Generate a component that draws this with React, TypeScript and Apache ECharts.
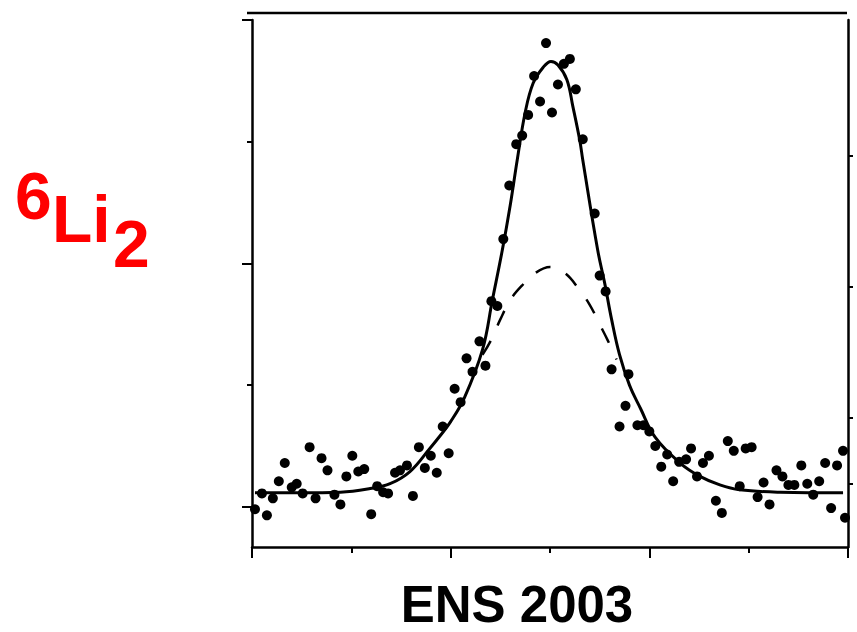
import React, { useEffect, useRef } from "react";
import * as echarts from "echarts";

// Measured points (x in axis units 0..6, y in axis units)
const pointsX = [
  0.03, 0.10, 0.15, 0.21, 0.27, 0.33, 0.40, 0.45, 0.51, 0.58, 0.64, 0.70, 0.76, 0.83, 0.89, 0.95,
  1.01, 1.07, 1.13, 1.20, 1.26, 1.32, 1.37, 1.44, 1.49, 1.56, 1.62, 1.68, 1.74, 1.80, 1.86, 1.92, 1.98,
  2.04, 2.10, 2.16, 2.22, 2.29, 2.35, 2.41, 2.47, 2.53, 2.59, 2.66, 2.72, 2.78, 2.84, 2.90, 2.96,
  3.02, 3.08, 3.14, 3.20, 3.26, 3.33, 3.45, 3.50, 3.56, 3.62, 3.70, 3.76, 3.79, 3.88, 3.94,
  4.00, 4.06, 4.12, 4.18, 4.24, 4.30, 4.37, 4.42, 4.48, 4.54, 4.60, 4.67, 4.73, 4.79, 4.85, 4.91, 4.97,
  5.03, 5.09, 5.15, 5.21, 5.28, 5.34, 5.40, 5.46, 5.53, 5.59, 5.65, 5.71, 5.77, 5.83, 5.89, 5.95, 5.97,
];
const pointsY = [
  -0.02, 0.11, -0.07, 0.07, 0.21, 0.36, 0.16, 0.19, 0.11, 0.49, 0.07, 0.40, 0.30, 0.10, 0.02, 0.25,
  0.42, 0.29, 0.31, -0.06, 0.17, 0.12, 0.11, 0.28, 0.30, 0.34, 0.09, 0.49, 0.32, 0.42, 0.28, 0.66, 0.44,
  0.97, 0.86, 1.22, 1.11, 1.36, 1.16, 1.69, 1.65, 2.20, 2.64, 2.98, 3.05, 3.22, 3.54, 3.33, 3.81,
  3.24, 3.47, 3.64, 3.68, 3.43, 3.02, 2.41, 1.90, 1.77, 1.13, 0.66, 0.83, 1.09, 0.67, 0.67,
  0.62, 0.50, 0.33, 0.43, 0.21, 0.37, 0.39, 0.48, 0.25, 0.36, 0.42, 0.05, -0.05, 0.54, 0.46, 0.17, 0.48,
  0.49, 0.08, 0.20, 0.02, 0.30, 0.25, 0.18, 0.18, 0.34, 0.19, 0.10, 0.21, 0.36, -0.01, 0.34, 0.46, -0.09,
];

// Solid fit curve
const fitX = [
  0.03, 0.48, 0.89, 1.19, 1.39, 1.59, 1.79, 1.89, 2.00, 2.14, 2.32, 2.42, 2.52, 2.60, 2.67, 2.75, 2.83,
  2.93, 3.01, 3.08, 3.17, 3.23, 3.30, 3.33, 3.48, 3.55, 3.62, 3.70, 3.80, 3.91, 4.06, 4.31, 4.51,
  4.71, 4.91, 5.32, 5.95,
];
const fitY = [
  0.115, 0.115, 0.12, 0.15, 0.19, 0.29, 0.48, 0.58, 0.70, 0.90, 1.29, 1.70, 2.11, 2.48, 2.85, 3.24, 3.48,
  3.61, 3.66, 3.63, 3.51, 3.29, 3.01, 2.85, 2.11, 1.84, 1.54, 1.25, 1.00, 0.81, 0.57, 0.36, 0.25,
  0.18, 0.14, 0.12, 0.115,
];

// Dashed curve
const dashX = [2.32, 2.40, 2.50, 2.60, 2.72, 2.85, 3.00, 3.15, 3.29, 3.40, 3.50, 3.58, 3.67];
const dashY = [1.25, 1.36, 1.54, 1.70, 1.82, 1.92, 1.97, 1.92, 1.79, 1.66, 1.50, 1.37, 1.21];

const leftMajorTicks = [0, 2, 4];
const leftMinorTicks = [1, 3];
const rightTicks = [0.5, 1, 2, 3];

const title = "ENS 2003";
const labelParts = ["6", "Li", "2"];

const FONT = "'Liberation Sans', Arial, Helvetica, sans-serif";

export default function App() {
  const ref = useRef<HTMLDivElement>(null);
  useEffect(() => {
    if (!ref.current) return;
    const chart = echarts.init(ref.current, undefined, { renderer: "svg" });
    const axisLineStyle = { color: "#000", width: 2.5 };
    const option: any = {
      animation: false,
      backgroundColor: "#fff",
      grid: { left: 252, right: 9, top: 20, bottom: 85 },
      xAxis: [
        {
          type: "value",
          min: 0,
          max: 6,
          interval: 2,
          position: "bottom",
          axisLine: { show: true, onZero: false, lineStyle: axisLineStyle },
          axisTick: { show: true, length: 11, lineStyle: { color: "#000", width: 2 } },
          minorTick: { show: true, splitNumber: 2, length: 6, lineStyle: { color: "#000", width: 2 } },
          axisLabel: { show: false },
          splitLine: { show: false },
          minorSplitLine: { show: false },
        },
      ],
      yAxis: [
        {
          type: "value",
          min: -0.33,
          max: 4,
          position: "left",
          axisLine: { show: true, onZero: false, lineStyle: axisLineStyle },
          axisTick: {
            show: true,
            length: 10,
            customValues: leftMajorTicks,
            lineStyle: { color: "#000", width: 2 },
          },
          axisLabel: { show: false },
          splitLine: { show: false },
        },
        {
          type: "value",
          min: -0.33,
          max: 4,
          position: "left",
          axisLine: { show: false },
          axisTick: {
            show: true,
            length: 5,
            customValues: leftMinorTicks,
            lineStyle: { color: "#000", width: 2 },
          },
          axisLabel: { show: false },
          splitLine: { show: false },
        },
        {
          type: "value",
          min: 0.015,
          max: 4.04,
          position: "right",
          axisLine: { show: true, onZero: false, lineStyle: axisLineStyle },
          axisTick: {
            show: true,
            length: 5,
            customValues: rightTicks,
            lineStyle: { color: "#000", width: 2 },
          },
          axisLabel: { show: false },
          splitLine: { show: false },
        },
      ],
      series: [
        {
          type: "line",
          xAxisIndex: 0,
          yAxisIndex: 0,
          data: dashX.map((x, i) => [x, dashY[i]]),
          smooth: 0.4,
          showSymbol: false,
          lineStyle: { color: "#000", width: 2.5, type: [16, 17] },
          z: 2,
        },
        {
          type: "line",
          xAxisIndex: 0,
          yAxisIndex: 0,
          data: fitX.map((x, i) => [x, fitY[i]]),
          smooth: 0.4,
          showSymbol: false,
          lineStyle: { color: "#000", width: 3 },
          z: 3,
        },
        {
          type: "scatter",
          xAxisIndex: 0,
          yAxisIndex: 0,
          data: pointsX.map((x, i) => [x, pointsY[i]]),
          symbol: "circle",
          symbolSize: 10,
          itemStyle: { color: "#000", opacity: 1 },
          clip: false,
          z: 4,
        },
      ],
      graphic: [
        {
          type: "line",
          shape: { x1: 247, y1: 13, x2: 847, y2: 13 },
          style: { stroke: "#000", lineWidth: 2.5 },
        },
        {
          type: "text",
          x: 517,
          y: 604,
          style: {
            text: title,
            fill: "#000",
            font: `bold 51px ${FONT}`,
            lineHeight: 44,
            align: "center",
            verticalAlign: "middle",
          },
        },
        {
          type: "text",
          x: 15,
          y: 196,
          style: {
            text: labelParts[0],
            fill: "#ff0000",
            font: `bold 66px ${FONT}`,
            align: "left",
            verticalAlign: "middle",
          },
        },
        {
          type: "text",
          x: 52,
          y: 219,
          style: {
            text: labelParts[1],
            fill: "#ff0000",
            font: `bold 66px ${FONT}`,
            align: "left",
            verticalAlign: "middle",
          },
        },
        {
          type: "text",
          x: 113,
          y: 244,
          style: {
            text: labelParts[2],
            fill: "#ff0000",
            font: `bold 66px ${FONT}`,
            align: "left",
            verticalAlign: "middle",
          },
        },
      ],
    };
    chart.setOption(option);
    return () => chart.dispose();
  }, []);
  return (
    <div
      ref={ref}
      style={{ position: "fixed", left: 0, top: 0, width: 857, height: 632, background: "#fff" }}
    />
  );
}
